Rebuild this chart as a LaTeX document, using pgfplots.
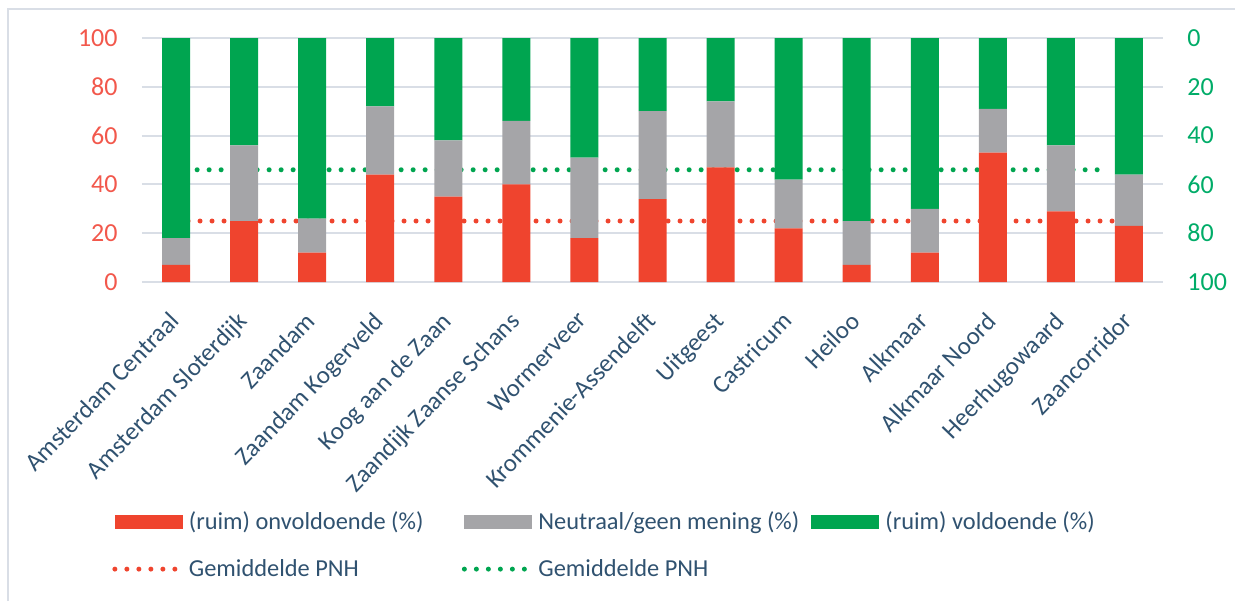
\documentclass[border=0pt]{standalone}
\usepackage{fontspec}
\setmainfont{Carlito}
\usepackage{xcolor}
\usepackage{pgfplots}
\pgfplotsset{compat=1.18}
\definecolor{cred}{RGB}{239,68,46}
\definecolor{cgray}{RGB}{165,165,168}
\definecolor{cgreen}{RGB}{0,165,80}
\definecolor{cticred}{RGB}{242,88,76}
\definecolor{cticgreen}{RGB}{0,172,104}
\definecolor{clabel}{RGB}{48,82,112}
\definecolor{cgrid}{RGB}{217,222,230}
\newcommand{\lfont}{\fontsize{13}{15}\selectfont}
\newcommand{\catfont}{\fontsize{12.5}{14}\selectfont}
\newcommand{\legfont}{\fontsize{12.2}{14}\selectfont}
\newcommand{\legtxt}[1]{\makebox[130pt][l]{\hspace{3pt}#1}}
\pgfplotsset{
  barleg/.style={legend image code/.code={\fill[##1] (0pt,-3.5pt) rectangle (34pt,3.5pt);}},
  dotleg/.style={legend image code/.code={\draw[##1] (0pt,0pt) -- (32pt,0pt);}},
  pnh/.style={stack plots=false, sharp plot, line width=2.5pt,
    dash pattern=on 0pt off 6pt, line cap=round, dotleg},
}

\begin{document}
\begin{tikzpicture}
\useasboundingbox (-71pt,-159.5pt) rectangle (546.5pt,141pt);
% rand van de grafiek (rechts en onder afgesneden)
\draw[cgrid, line width=1pt] (-67pt,-159.5pt) -- (-67pt,136.5pt) -- (546.5pt,136.5pt);

\begin{axis}[
  at={(0pt,0pt)}, anchor=south west,
  scale only axis, width=510.5pt, height=122pt,
  xmin=-0.5, xmax=14.5, ymin=0, ymax=100,
  ybar stacked, bar width=14pt,
  xtick={0,...,14},
  xticklabels={Amsterdam Centraal, Amsterdam Sloterdijk, Zaandam, Zaandam Kogerveld,
    Koog aan de Zaan, Zaandijk Zaanse Schans, Wormerveer, Krommenie-Assendelft,
    Uitgeest, Castricum, Heiloo, Alkmaar, Alkmaar Noord, Heerhugowaard, Zaancorridor},
  xticklabel style={xshift=-4pt, yshift=-14pt, rotate=46, anchor=north east,
    inner sep=0pt, font=\catfont, text=clabel},
  ytick={0,20,...,100},
  yticklabel style={font=\lfont, text=cticred, inner sep=0pt, xshift=-12pt},
  /pgf/number format/assume math mode=true,
  ymajorgrids, grid style={cgrid, line width=1pt},
  axis line style={draw=none},
  major tick length=0pt,
  legend columns=3,
  legend style={draw=none, fill=none, at={(axis description cs:-0.0294,-0.938)},
    anchor=north west, font=\legfont, text=clabel, inner sep=0pt, row sep=13.5pt,
    nodes={inner sep=0pt}},
  /tikz/every even column/.append style={column sep=9.5pt},
  barleg,
]
% (ruim) onvoldoende
\addplot[fill=cred, draw=none] coordinates {
  (0,7) (1,25) (2,12) (3,44) (4,35) (5,40) (6,18) (7,34)
  (8,47) (9,22) (10,7) (11,12) (12,53) (13,29) (14,23)};
\addlegendentry{\legtxt{(ruim) onvoldoende (\%)}}
% neutraal / geen mening
\addplot[fill=cgray, draw=none] coordinates {
  (0,11) (1,31) (2,14) (3,28) (4,23) (5,26) (6,33) (7,36)
  (8,27) (9,20) (10,18) (11,18) (12,18) (13,27) (14,21)};
\addlegendentry{\legtxt{Neutraal/geen mening (\%)}}
% (ruim) voldoende
\addplot[fill=cgreen, draw=none] coordinates {
  (0,82) (1,44) (2,74) (3,28) (4,42) (5,34) (6,49) (7,30)
  (8,26) (9,58) (10,75) (11,70) (12,29) (13,44) (14,56)};
\addlegendentry{\legtxt{(ruim) voldoende (\%)}}
% gemiddelden PNH
\addplot[pnh, cred] coordinates {(0,25) (13.84,25)};
\addlegendentry{\legtxt{Gemiddelde PNH}}
\addplot[pnh, cgreen] coordinates {(0.31,46) (13.69,46)};
\addlegendentry{\legtxt{Gemiddelde PNH}}
\end{axis}

\begin{axis}[
  at={(0pt,0pt)}, anchor=south west,
  scale only axis, width=510.5pt, height=122pt,
  xmin=-0.5, xmax=14.5, ymin=0, ymax=100, y dir=reverse,
  hide x axis, axis y line*=right,
  axis line style={draw=none}, major tick length=0pt,
  ytick={0,20,...,100},
  yticklabel style={font=\lfont, text=cticgreen, inner sep=0pt, xshift=12pt},
  /pgf/number format/assume math mode=true,
]
\addplot[draw=none] coordinates {(0,0)};
\end{axis}
\end{tikzpicture}
\end{document}
